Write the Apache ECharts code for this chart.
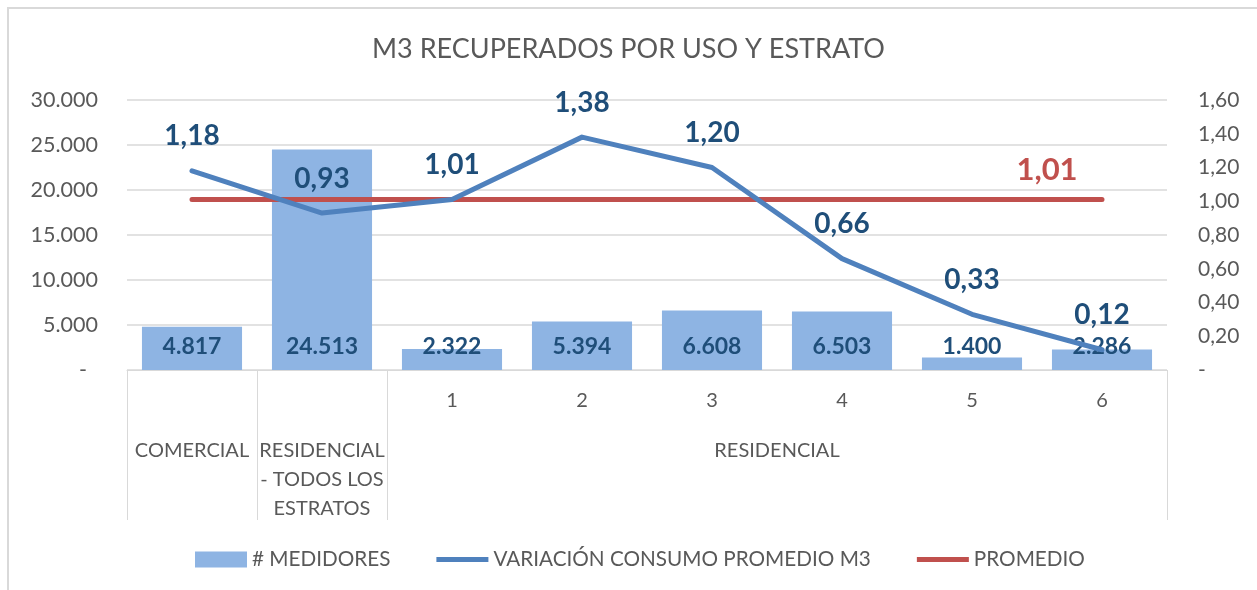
<!DOCTYPE html>
<html>
<head>
<meta charset="utf-8">
<title>M3 recuperados por uso y estrato</title>
<script src="https://cdn.jsdelivr.net/npm/echarts@6/dist/echarts.min.js"></script>
<style>
    html, body { margin: 0; padding: 0; background: #fff; overflow: hidden; }
    #frame { position: absolute; left: 7px; top: 7px; width: 1300px; height: 700px;
             border: 2px solid #d9d9d9; box-sizing: border-box; pointer-events: none; }
    #chart { position: absolute; left: 0; top: 0; width: 1257px; height: 590px; }
</style>
</head>
<body>
<div id="chart"></div>
<div id="frame"></div>
<script>
    'use strict';

    // data
    var categories = ['COMERCIAL', 'RESIDENCIAL - TODOS LOS ESTRATOS', '1', '2', '3', '4', '5', '6'];
    var innerLabels = ['', '', '1', '2', '3', '4', '5', '6'];
    // outer level of the axis: first / last category index and text
    var groups = [
        { start: 0, end: 0, text: 'COMERCIAL' },
        { start: 1, end: 1, text: 'RESIDENCIAL\n- TODOS LOS\nESTRATOS' },
        { start: 2, end: 7, text: 'RESIDENCIAL' }
    ];
    var medidores = [4817, 24513, 2322, 5394, 6608, 6503, 1400, 2286];
    var variacion = [1.18, 0.93, 1.01, 1.38, 1.20, 0.66, 0.33, 0.12];
    var promedio = [1.01, 1.01, 1.01, 1.01, 1.01, 1.01, 1.01, 1.01];

    var FONT = 'Lato';
    var GREY = '#595959';
    var LABEL_BLUE = '#1F4E79';

    function thousands(v) {
        if (v === 0) { return '-  '; }
        return String(v).replace(/\B(?=(\d{3})+(?!\d))/g, '.');
    }
    function decimal(v) {
        if (v === 0) { return '-'; }
        return v.toFixed(2).replace('.', ',');
    }

    var groupCenters = groups.map(function (g) { return (g.start + g.end + 1) / 2; });
    // in the reference the separators stop after the first two groups
    var groupEdges = [0, groups[1].start, groups[2].start, categories.length];

    var chart = echarts.init(document.getElementById('chart'));

    chart.setOption({
        animation: false,
        textStyle: { fontFamily: FONT },
        title: {
            text: 'M3 RECUPERADOS POR USO Y ESTRATO',
            left: 'center',
            top: 31,
            textStyle: { fontFamily: FONT, fontSize: 27, fontWeight: 'normal', color: GREY }
        },
        legend: {
            left: 190,
            top: 544,
            itemWidth: 52,
            itemHeight: 16,
            itemGap: 46,
            textStyle: { fontFamily: FONT, fontSize: 20.7, color: GREY },
            data: [
                { name: '# MEDIDORES', icon: 'rect' },
                { name: 'VARIACIÓN CONSUMO PROMEDIO M3', icon: 'path://M0,0H100V10H0Z' },
                { name: 'PROMEDIO', icon: 'path://M0,0H100V10H0Z' }
            ]
        },
        grid: { left: 127, right: 90, top: 100, bottom: 220 },
        xAxis: [
            {
                type: 'category',
                data: categories,
                position: 'bottom',
                axisLine: { show: true, lineStyle: { color: '#d9d9d9', width: 1 } },
                axisTick: { show: false },
                axisLabel: {
                    interval: 0,
                    margin: 21,
                    fontSize: 20,
                    color: GREY,
                    formatter: function (v, i) { return innerLabels[i]; }
                }
            },
            {
                type: 'value',
                min: 0,
                max: categories.length,
                position: 'bottom',
                offset: 0,
                axisLine: { show: false },
                splitLine: { show: false },
                axisTick: {
                    show: true,
                    length: 150,
                    customValues: groupEdges,
                    lineStyle: { color: '#d9d9d9', width: 1 }
                },
                axisLabel: {
                    customValues: groupCenters,
                    margin: 66,
                    fontSize: 20,
                    lineHeight: 29,
                    color: GREY,
                    verticalAlign: 'top',
                    formatter: function (v) {
                        var k = groupCenters.indexOf(v);
                        return k < 0 ? '' : groups[k].text;
                    }
                }
            }
        ],
        yAxis: [
            {
                type: 'value',
                min: 0,
                max: 30000,
                interval: 5000,
                axisLine: { show: false },
                axisTick: { show: false },
                splitLine: { lineStyle: { color: '#d9d9d9', width: 1.5 } },
                axisLabel: { margin: 29, fontSize: 21.5, color: GREY, formatter: thousands }
            },
            {
                type: 'value',
                min: 0,
                max: 1.6,
                interval: 0.2,
                axisLine: { show: false },
                axisTick: { show: false },
                splitLine: { show: false },
                axisLabel: { margin: 31, fontSize: 21, color: GREY, formatter: decimal }
            }
        ],
        series: [
            {
                name: '# MEDIDORES',
                type: 'bar',
                data: medidores,
                barCategoryGap: '23%',
                itemStyle: { color: '#8EB4E3' },
                label: {
                    show: true,
                    position: 'insideBottom',
                    distance: 12,
                    fontFamily: FONT,
                    fontSize: 23,
                    fontWeight: 'bold',
                    color: LABEL_BLUE,
                    formatter: function (p) { return thousands(p.value); }
                },
                z: 2
            },
            {
                name: 'VARIACIÓN CONSUMO PROMEDIO M3',
                type: 'line',
                yAxisIndex: 1,
                data: variacion,
                symbol: 'circle',
                symbolSize: 1,
                itemStyle: { color: '#4F81BD' },
                lineStyle: { color: '#4F81BD', width: 5, cap: 'round', join: 'round' },
                label: {
                    show: true,
                    position: 'top',
                    distance: 20,
                    fontFamily: FONT,
                    fontSize: 28,
                    fontWeight: 'bold',
                    color: LABEL_BLUE,
                    formatter: function (p) { return decimal(p.value); }
                },
                z: 4
            },
            {
                name: 'PROMEDIO',
                type: 'line',
                yAxisIndex: 1,
                data: promedio,
                symbol: 'circle',
                symbolSize: 1,
                itemStyle: { color: '#C0504D' },
                lineStyle: { color: '#C0504D', width: 5, cap: 'round' },
                label: {
                    show: true,
                    position: 'top',
                    distance: 14,
                    offset: [-55, 0],
                    fontFamily: FONT,
                    fontSize: 31,
                    fontWeight: 'bold',
                    color: '#C0504D',
                    formatter: function (p) {
                        return p.dataIndex === promedio.length - 1 ? decimal(p.value) : '';
                    }
                },
                z: 3
            }
        ]
    });
</script>
</body>
</html>
